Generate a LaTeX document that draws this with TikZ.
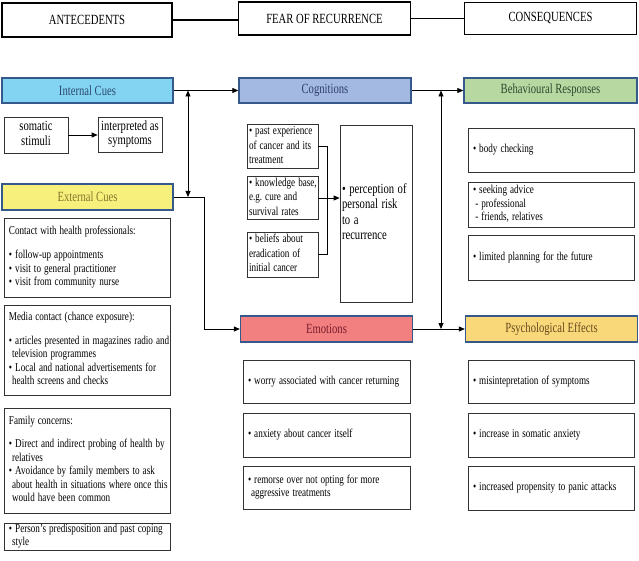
\documentclass[tikz,border=0pt]{standalone}
\usepackage{fontspec}
\setmainfont{Liberation Serif}
\usepackage{xcolor}
\usepackage{graphicx}
\usetikzlibrary{arrows.meta,positioning}

\definecolor{headline}{HTML}{35598A}
\definecolor{boxline}{HTML}{333333}
\definecolor{intfill}{HTML}{82D4F2}
\definecolor{inttext}{HTML}{2E4A6E}
\definecolor{cogfill}{HTML}{A4B9E1}
\definecolor{cogtext}{HTML}{2E3E6E}
\definecolor{behfill}{HTML}{B8D8A2}
\definecolor{behtext}{HTML}{2F4A2F}
\definecolor{extfill}{HTML}{F8F07C}
\definecolor{exttext}{HTML}{85762E}
\definecolor{emofill}{HTML}{F28080}
\definecolor{emotext}{HTML}{7A1C2C}
\definecolor{psyfill}{HTML}{F8D878}
\definecolor{psytext}{HTML}{6A4A20}

% narrow type, as in the scanned figure
\newcommand{\slim}[1]{\scalebox{0.76}[1]{#1}}
\newcommand{\slimlines}[1]{\scalebox{0.76}[1]{\begin{tabular}{@{}l@{}}#1\end{tabular}}}
\newcommand{\slimmid}[1]{\scalebox{0.76}[1]{\begin{tabular}{@{}c@{}}#1\end{tabular}}}

\begin{document}
\begin{tikzpicture}[
    x=1pt, y=-1pt,
    topbox/.style={
        draw,
        line width=1.6pt,
        align=center,
        inner sep=0pt,
        minimum width=172pt,
        minimum height=33pt,
        font=\fontsize{14}{16}\selectfont
    },
    head/.style={
        draw=headline,
        line width=1.4pt,
        inner sep=0pt,
        minimum width=172pt,
        minimum height=25pt,
        font=\fontsize{14}{16}\selectfont
    },
    box/.style={
        draw=boxline,
        line width=0.7pt,
        align=left,
        inner xsep=5pt,
        inner ysep=0pt,
        font=\fontsize{12}{13.5}\selectfont
    },
    arrow/.style={
        -{Triangle[length=6pt,width=5pt]},
        line width=0.8pt
    },
    twoway/.style={
        {Triangle[length=6pt,width=5pt]}-{Triangle[length=6pt,width=5pt]},
        line width=0.8pt
    },
    link/.style={
        line width=0.8pt
    }
]

\useasboundingbox (0,0) rectangle (639,561);

% ==================================================
% Column titles
% ==================================================

\node[topbox, minimum width=170pt, minimum height=34pt] (ante) at (87,20) {\slim{ANTECEDENTS}};
\node[topbox] (fear) at (324.5,18.5) {\slim{FEAR OF RECURRENCE}};
\node[topbox, minimum height=32pt] (cons) at (550.5,18.5) {\slim{CONSEQUENCES}};

\draw[link, line width=1.4pt] (ante.east) -- (ante.east -| fear.west);
\draw[link, line width=1.4pt] (fear.east) -- (fear.east -| cons.west);


% ==================================================
% Coloured headings
% ==================================================

\node[head, fill=intfill, text=inttext, minimum width=171pt] (intcues) at (87.5,90.5) {\slim{Internal Cues}};
\node[head, fill=cogfill, text=cogtext] (cogn) at (325,90.5) {\slim{Cognitions}};
\node[head, fill=behfill, text=behtext, minimum width=173pt] (behav) at (550.5,90.5) {\slim{Behavioural Responses}};

\node[head, fill=extfill, text=exttext, minimum width=171pt, minimum height=26pt] (extcues) at (87.5,197) {\slim{External Cues}};
\node[head, fill=emofill, text=emotext, minimum height=26pt] (emot) at (326.5,329) {\slim{Emotions}};
\node[head, fill=psyfill, text=psytext, minimum height=26pt] (psych) at (551.5,329) {\slim{Psychological Effects}};


% ==================================================
% Antecedents
% ==================================================

\node[box, align=center, inner xsep=0pt, minimum width=64pt, minimum height=36pt,
      font=\fontsize{14}{14.5}\selectfont] (somatic) at (36,135) {\slimmid{somatic\\stimuli}};
\node[box, align=center, inner xsep=0pt, minimum width=64pt, minimum height=35pt,
      font=\fontsize{14}{14.5}\selectfont] (interp) at (130,134.5) {\slimmid{interpreted as\\symptoms}};

\node[box, text width=156pt, minimum height=79pt] (contact) at (87,257.5)
{\slimlines{
    Contact with health professionals:\\[11pt]
    • follow-up appointments\\
    • visit to general practitioner\\
    • visit from community nurse
}};

\node[box, text width=156pt, minimum height=90pt] (media) at (87,350)
{\slimlines{
    Media contact (chance exposure):\\[10pt]
    • articles presented in magazines radio and\\
    \hspace*{4pt}television programmes\\
    • Local and national advertisements for\\
    \hspace*{4pt}health screens and checks
}};

\node[box, text width=156pt, minimum height=105pt] (family) at (87,460.5)
{\slimlines{
    Family concerns:\\[10pt]
    • Direct and indirect probing of health by\\
    \hspace*{4pt}relatives\\
    • Avoidance by family members to ask\\
    \hspace*{4pt}about health in situations where once this\\
    \hspace*{4pt}would have been common
}};

\node[box, text width=156pt, minimum height=27pt] (person) at (87,536.5)
{\slimlines{
    • Person's predisposition and past coping\\
    \hspace*{4pt}style
}};


% ==================================================
% Cognitions
% ==================================================

\node[box, text width=67pt, inner xsep=2pt, minimum height=43pt,
      font=\fontsize{12}{14.5}\selectfont] (past) at (282.5,146.5)
{\slimlines{• past experience\\of cancer and its\\treatment}};

\node[box, text width=67pt, inner xsep=2pt, minimum height=40pt,
      font=\fontsize{12}{14.5}\selectfont] (know) at (282.5,198)
{\slimlines{• knowledge base,\\e.g.\ cure and\\survival rates}};

\node[box, text width=67pt, inner xsep=2pt, minimum height=45pt,
      font=\fontsize{12}{14.5}\selectfont] (belief) at (282.5,254.5)
{\slimlines{• beliefs about\\eradication of\\initial cancer}};

\node[box, text width=68pt, inner xsep=2pt, minimum height=177pt,
      font=\fontsize{14}{15.5}\selectfont] (percep) at (376,213.5)
{\slimlines{• perception of\\personal risk\\to a\\recurrence}};


% ==================================================
% Emotions
% ==================================================

\node[box, text width=157pt, minimum height=43pt] (worry) at (326.5,381.5)
{\slim{• worry associated with cancer returning}};

\node[box, text width=157pt, minimum height=44pt] (anxiety) at (326.5,435)
{\slim{• anxiety about cancer itself}};

\node[box, text width=157pt, minimum height=43pt] (remorse) at (326.5,487.5)
{\slimlines{
    • remorse over not opting for more\\
    \hspace*{4pt}aggressive treatments
}};


% ==================================================
% Consequences
% ==================================================

\node[box, text width=156pt, minimum height=44pt] (checking) at (551,150)
{\slim{• body checking}};

\node[box, text width=156pt, minimum height=45pt] (advice) at (551,204.5)
{\slimlines{
    • seeking advice\\
    \hspace*{3pt}- professional\\
    \hspace*{3pt}- friends, relatives
}};

\node[box, text width=156pt, minimum height=45pt] (planning) at (551,257.5)
{\slim{• limited planning for the future}};

\node[box, text width=156pt, minimum height=43pt] (misint) at (551,381.5)
{\slim{• misintepretation of symptoms}};

\node[box, text width=156pt, minimum height=44pt] (somanx) at (551,435)
{\slim{• increase in somatic anxiety}};

\node[box, text width=156pt, minimum height=44pt] (panic) at (551,488)
{\slim{• increased propensity to panic attacks}};


% ==================================================
% Connectors
% ==================================================

% Heading row
\draw[arrow] (intcues.east) -- (intcues.east -| cogn.west);
\draw[arrow] (cogn.east) -- (cogn.east -| behav.west);
\draw[arrow] (emot.east) -- (emot.east -| psych.west);

% External cues into emotions
\coordinate (extbend) at (204,197);
\draw[arrow] (extcues.east) -- (extbend) |- (emot.west);

% Two-way links between rows
\coordinate (cuetop) at (188,90.5);
\coordinate (cuebot) at (188,197);
\draw[twoway] (cuetop) -- (cuebot);

\coordinate (contop) at (441,90.5);
\coordinate (conbot) at (441,329);
\draw[twoway] (contop) -- (conbot);

% Somatic stimuli
\draw[arrow] (somatic.east) -- (somatic.east -| interp.west);

% Cognition bracket
\draw[link] (past.east) -- ++(9,0) |- (belief.east);
\draw[arrow] (know.east) -- (know.east -| percep.west);

\end{tikzpicture}
\end{document}
